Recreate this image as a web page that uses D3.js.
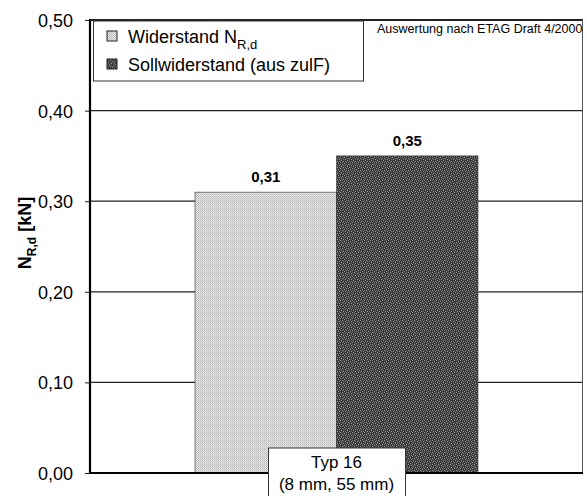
<!DOCTYPE html>
<html>
<head>
<meta charset="utf-8">
<script src="https://cdn.jsdelivr.net/npm/d3@7"></script>
<style>
  body { margin: 0; background: #fff; }
  text { font-family: "Liberation Sans", Arial, sans-serif; fill: #000; }
</style>
</head>
<body>
<div id="chart"></div>
<script>
// data
var categories = ["Typ 16"];
var categoryDetails = ["(8 mm, 55 mm)"];
var seriesNames = ["Widerstand", "Sollwiderstand (aus zulF)"];
var seriesValues = [0.31, 0.35];
var yTicks = [0, 0.1, 0.2, 0.3, 0.4, 0.5];

//svg size
var svgWidth = 587;
var svgHeight = 496;
var margin = { top: 20, bottom: 23, left: 90, right: 4 };
var chartWidth = svgWidth - margin.left - margin.right;
var chartHeight = svgHeight - margin.top - margin.bottom;

var svg = d3.select("#chart")
    .append("svg")
    .attr("width", svgWidth)
    .attr("height", svgHeight);

// bar textures
var defs = svg.append("defs");
var pLight = defs.append("pattern").attr("id", "light")
    .attr("width", 2).attr("height", 2).attr("patternUnits", "userSpaceOnUse");
pLight.append("rect").attr("width", 2).attr("height", 2).attr("fill", "#e6e6e6");
pLight.append("rect").attr("width", 1).attr("height", 1).attr("fill", "#b4b4b4");
pLight.append("rect").attr("x", 1).attr("y", 1).attr("width", 1).attr("height", 1).attr("fill", "#c8c8c8");

var pDark = defs.append("pattern").attr("id", "dark")
    .attr("width", 6).attr("height", 6).attr("patternUnits", "userSpaceOnUse");
pDark.append("rect").attr("width", 6).attr("height", 6).attr("fill", "#3a3a3a");
[[0,0],[3,1],[1,3],[4,4],[2,5],[5,2]].forEach(function(p) {
    pDark.append("rect").attr("x", p[0]).attr("y", p[1]).attr("width", 1).attr("height", 1).attr("fill", "#9a9a9a");
});
[[1,1],[4,0],[0,4],[3,3]].forEach(function(p) {
    pDark.append("rect").attr("x", p[0]).attr("y", p[1]).attr("width", 1).attr("height", 1).attr("fill", "#6c6c6c");
});
var fills = ["url(#light)", "url(#dark)"];

var chartGroup = svg.append("g")
    .attr("transform", `translate(${margin.left}, ${margin.top})`);

//scales
var yScale = d3.scaleLinear().domain([0, 0.5]).range([chartHeight, 0]);
var x0 = d3.scaleBand().domain(categories).range([0, chartWidth])
    .paddingInner(0).paddingOuter(0.371);
var x1 = d3.scaleBand().domain(seriesNames).range([0, x0.bandwidth()]).padding(0);
var fmt = function(v) { return d3.format(".2f")(v).replace(".", ","); };

//gridlines
chartGroup.selectAll(".grid").data(yTicks.slice(1)).enter().append("line")
    .attr("x1", 0).attr("x2", chartWidth)
    .attr("y1", d => yScale(d)).attr("y2", d => yScale(d))
    .attr("stroke", "#222").attr("stroke-width", d => d === 0.5 ? 2 : 1.2);

// right border
chartGroup.append("line")
    .attr("x1", chartWidth - 0.5).attr("x2", chartWidth - 0.5)
    .attr("y1", 0).attr("y2", chartHeight)
    .attr("stroke", "#555").attr("stroke-width", 1);

//bars
chartGroup.selectAll(".bar").data(seriesValues).enter().append("rect")
    .attr("x", (d, i) => x0(categories[0]) + x1(seriesNames[i]))
    .attr("y", d => yScale(d))
    .attr("width", x1.bandwidth())
    .attr("height", d => chartHeight - yScale(d))
    .attr("fill", (d, i) => fills[i])
    .attr("stroke", "#333").attr("stroke-width", 0.6);

//value labels
chartGroup.selectAll(".val").data(seriesValues).enter().append("text")
    .attr("x", (d, i) => x0(categories[0]) + x1(seriesNames[i]) + x1.bandwidth() / 2)
    .attr("y", d => yScale(d) - 10)
    .attr("text-anchor", "middle")
    .style("font-size", "15px").style("font-weight", "bold")
    .text(d => fmt(d));

//y axis
var yAxis = d3.axisLeft(yScale).tickValues(yTicks).tickFormat(fmt).tickSize(5).tickPadding(12);
var yG = chartGroup.append("g").call(yAxis);
yG.select(".domain").remove();
yG.selectAll("line").attr("stroke", "#222");
yG.selectAll("text").style("font-size", "18px").attr("dy", "0.36em");

chartGroup.append("line")
    .attr("x1", 0).attr("x2", 0).attr("y1", -1).attr("y2", chartHeight + 1)
    .attr("stroke", "#000").attr("stroke-width", 2.2);
chartGroup.append("line")
    .attr("x1", 0).attr("x2", chartWidth).attr("y1", chartHeight).attr("y2", chartHeight)
    .attr("stroke", "#000").attr("stroke-width", 2.2);

//category label box
var cx = x0(categories[0]) + x0.bandwidth() / 2;
chartGroup.append("rect")
    .attr("x", cx - 68).attr("y", chartHeight - 25)
    .attr("width", 137).attr("height", 60)
    .attr("fill", "#fff").attr("stroke", "#333").attr("stroke-width", 1);
chartGroup.selectAll(".cat").data(categories).enter().append("text")
    .attr("x", d => x0(d) + x0.bandwidth() / 2)
    .attr("y", chartHeight - 5)
    .attr("text-anchor", "middle").style("font-size", "17px")
    .text(d => d);
chartGroup.selectAll(".catd").data(categoryDetails).enter().append("text")
    .attr("x", cx)
    .attr("y", chartHeight + 17)
    .attr("text-anchor", "middle").style("font-size", "17px")
    .text(d => d);

//y label
var yl = svg.append("text")
    .attr("transform", "translate(31, 233) rotate(-90)")
    .attr("text-anchor", "middle")
    .style("font-size", "18px").style("font-weight", "bold");
yl.append("tspan").text("N");
yl.append("tspan").attr("dy", 5).style("font-size", "12px").text("R,d");
yl.append("tspan").attr("dy", -5).text(" [kN]");

//legend
var legend = svg.append("g");
legend.append("rect")
    .attr("x", 93.5).attr("y", 21).attr("width", 270).attr("height", 60)
    .attr("fill", "#fff").attr("stroke", "#333").attr("stroke-width", 1);
var items = legend.selectAll(".item").data(seriesNames).enter().append("g")
    .attr("transform", (d, i) => `translate(107, ${31 + i * 28})`);
items.append("rect")
    .attr("width", 10).attr("height", 10)
    .attr("fill", (d, i) => fills[i]).attr("stroke", "#222").attr("stroke-width", 1);
var lt = items.append("text")
    .attr("x", 21).attr("y", 12)
    .style("font-size", "18px")
    .text(d => d);
lt.filter((d, i) => i === 0).each(function() {
    var t = d3.select(this);
    t.append("tspan").text(" N");
    t.append("tspan").attr("dy", 6).style("font-size", "13px").text("R,d");
});

//note
svg.append("text")
    .attr("x", 377).attr("y", 33)
    .style("font-size", "12.5px")
    .text("Auswertung nach ETAG Draft 4/2000");
</script>
</body>
</html>
